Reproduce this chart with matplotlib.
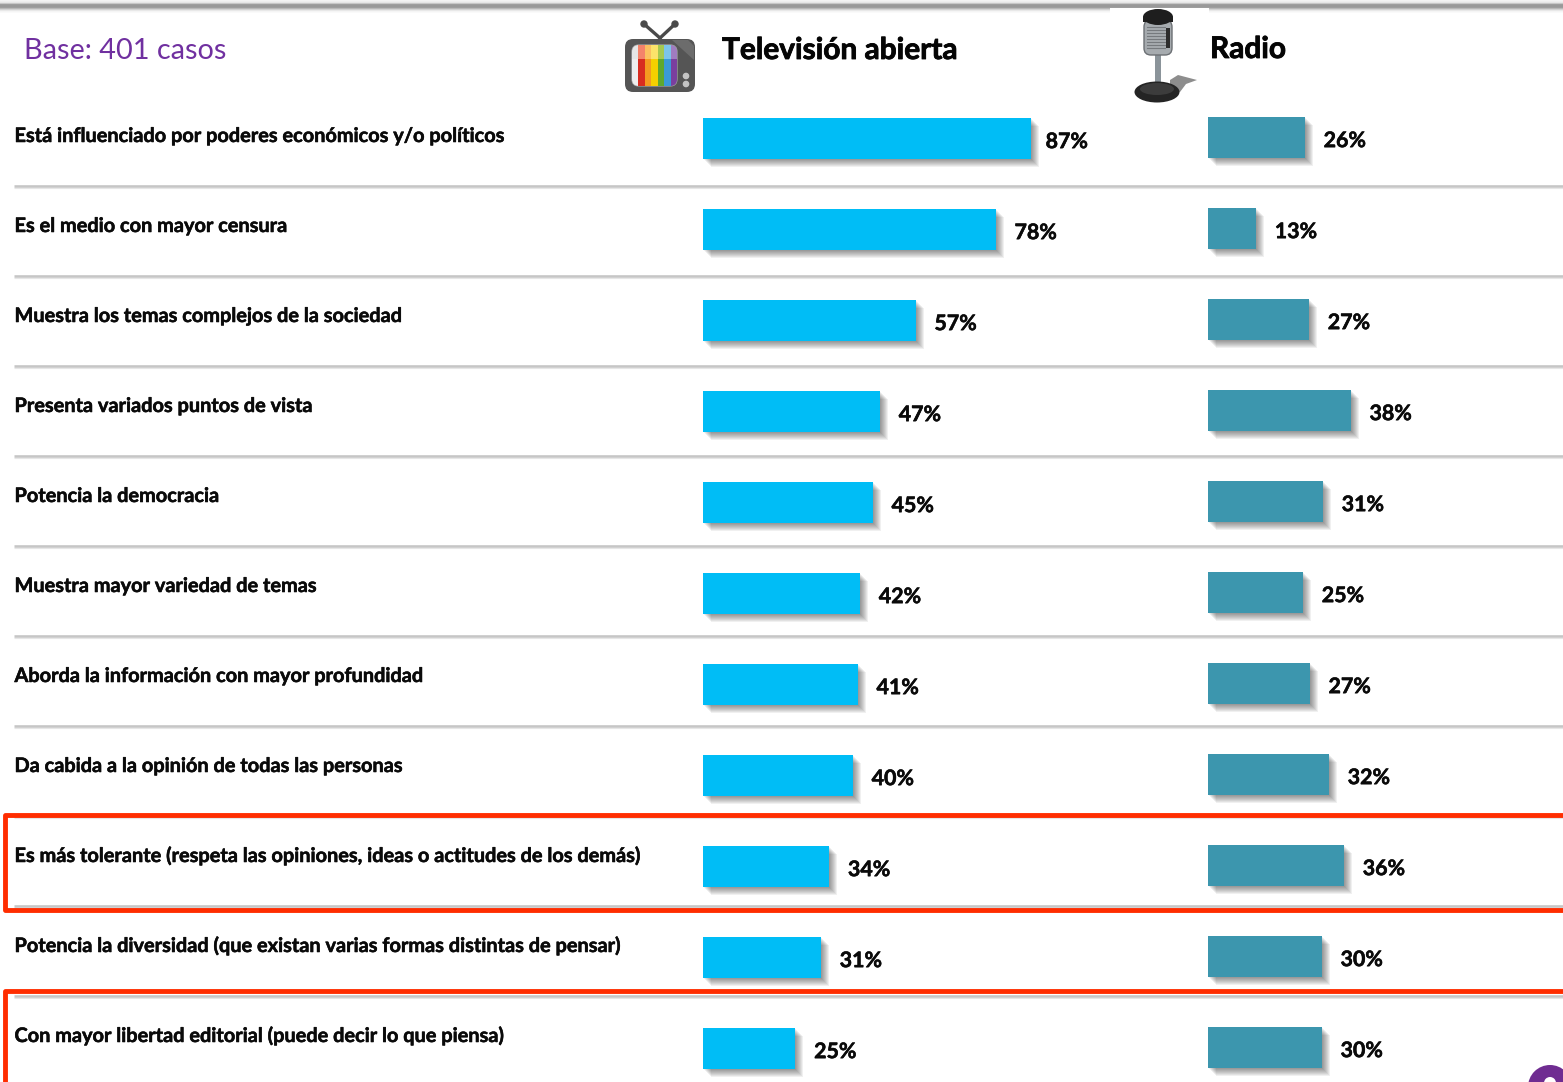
import numpy as np
import matplotlib
matplotlib.use('Agg')
import matplotlib.pyplot as plt
import matplotlib.patheffects as pe
from matplotlib.patches import Rectangle, FancyBboxPatch, Circle, Ellipse, Polygon

W, H = 1563, 1082

categories = [
    'Está influenciado por poderes económicos y/o políticos',
    'Es el medio con mayor censura',
    'Muestra los temas complejos de la sociedad',
    'Presenta variados puntos de vista',
    'Potencia la democracia',
    'Muestra mayor variedad de temas',
    'Aborda la información con mayor profundidad',
    'Da cabida a la opinión de todas las personas',
    'Es más tolerante (respeta las opiniones, ideas o actitudes de los demás)',
    'Potencia la diversidad (que existan varias formas distintas de pensar)',
    'Con mayor libertad editorial (puede decir lo que piensa)',
]
tv_labels = [87, 78, 57, 47, 45, 42, 41, 40, 34, 31, 25]
radio_labels = [26, 13, 27, 38, 31, 25, 27, 32, 36, 30, 30]
# bar lengths, they differ a little from the printed numbers
tv_values = [87.2, 77.9, 56.6, 47.1, 45.2, 41.8, 41.2, 39.9, 33.6, 31.4, 24.6]
radio_values = [25.8, 12.8, 26.9, 38.0, 30.6, 25.3, 27.1, 32.2, 36.2, 30.3, 30.3]

TV_COLOR = '#00bdf6'
RADIO_COLOR = '#3c96ae'
LINE_COLOR = '#c6c6c6'
RED = '#ff2d00'
PURPLE = '#7030a0'

plt.rcParams['font.family'] = ['Lato', 'DejaVu Sans']


def heavy(color='#0a0a0a', width=0.4):
    # Lato bold is lighter than the bold of the reference
    return [pe.withStroke(linewidth=width, foreground=color)]


fig = plt.figure(figsize=(W / 100, H / 100), dpi=100)

# background layer in pixel coordinates
bg = fig.add_axes([0, 0, 1, 1])

# top band
band = np.array([.95, .93, .90, .78, .62, .60, .60, .62, .72, .83, .91, .96, .98, 1.0])
bg.imshow(band[:, None], cmap='gray', vmin=0, vmax=1, aspect='auto',
          extent=(0, W, 14, 0), zorder=1)
bg.set_xlim(0, W)
bg.set_ylim(H, 0)
bg.axis('off')

# separators
for y in [186, 276, 366, 456, 546, 636, 726, 816, 906, 996]:
    bg.plot([14, W], [y, y], color=LINE_COLOR, lw=1.9, solid_capstyle='butt', zorder=2)
    bg.plot([14, W], [y + 2, y + 2], color='#e6e6e6', lw=0.8, solid_capstyle='butt', zorder=2)

# row labels
for i, cat in enumerate(categories):
    bg.text(14.5, 142 + 90 * i, cat, fontsize=14.35, fontweight='bold', color='#0a0a0a',
            ha='left', va='baseline', zorder=5, path_effects=heavy())

# headers
bg.text(24, 59, 'Base: 401 casos', fontsize=20.8, color=PURPLE, ha='left', va='baseline', zorder=5)
bg.text(722, 59, 'Televisión abierta', fontsize=21.5, fontweight='bold', color='#050505',
        ha='left', va='baseline', zorder=5, path_effects=heavy('#050505', 0.6))
bg.text(1210, 58, 'Radio', fontsize=21.5, fontweight='bold', color='#050505',
        ha='left', va='baseline', zorder=5, path_effects=heavy('#050505', 0.6))

# red frames
bg.plot([W + 5, 4.5, 4.5, W + 5], [815, 815, 909.5, 909.5], color=RED, lw=3.5,
        solid_joinstyle='round', zorder=6)
bg.plot([W + 5, 4.5, 4.5], [990.5, 990.5, H + 5], color=RED, lw=3.5,
        solid_joinstyle='round', zorder=6)

# tv icon
for xe in [644, 675]:
    bg.plot([660, xe], [38, 24], color='#4a4a4a', lw=2.4, zorder=3)
    bg.add_patch(Circle((xe, 24), 3, color='#4a4a4a', zorder=3))
body = FancyBboxPatch((629, 43), 62, 45, boxstyle='round,pad=4,rounding_size=8',
                      fc='#555555', ec='none', zorder=3)
bg.add_patch(body)
bg.add_patch(Polygon([(672, 40), (688, 40), (694, 46), (694, 60)], fc='#6c6c6c', ec='none', zorder=3))
screen = FancyBboxPatch((635, 48), 39, 35, boxstyle='round,pad=3,rounding_size=7',
                        fc='#dddddd', ec='#9a9a9a', lw=1, zorder=4)
bg.add_patch(screen)
tops = ['#e6e6e6', '#f4836b', '#fbc060', '#fbe36a', '#a5c850', '#7cc4ea', '#a07cc0']
bottoms = ['#eeeeee', '#d82c20', '#f49a20', '#f6d000', '#5fa82e', '#3a9ad8', '#7a3f9e']
for k in range(7):
    x0 = 632 + k * 45 / 7
    r1 = Rectangle((x0, 45), 45 / 7, 14, fc=tops[k], ec='none', zorder=4)
    r2 = Rectangle((x0, 59), 45 / 7, 27, fc=bottoms[k], ec='none', zorder=4)
    bg.add_patch(r1)
    bg.add_patch(r2)
    r1.set_clip_path(screen)
    r2.set_clip_path(screen)
bg.add_patch(Circle((686, 76), 2.6, color='#c4c4c4', zorder=4))
bg.add_patch(Circle((686, 84), 2.6, color='#c4c4c4', zorder=4))

# microphone icon
bg.add_patch(Rectangle((1110, 8), 99, 95, fc='white', ec='none', zorder=3))
bg.add_patch(Polygon([(1170, 80), (1178, 75), (1197, 80), (1186, 84), (1180, 92), (1170, 90)],
                     fc='#8d8d8d', ec='none', zorder=3))
bg.add_patch(Rectangle((1155, 53), 6, 37, fc='#8b949a', ec='none', zorder=4))
bg.add_patch(Ellipse((1157, 92), 45, 21, fc='#242424', ec='none', zorder=4))
bg.add_patch(Ellipse((1157, 89), 34, 12, fc='#3c3c3c', ec='none', zorder=4))
bg.add_patch(FancyBboxPatch((1148, 24), 20, 27, boxstyle='round,pad=4,rounding_size=7',
                            fc='#a6abaf', ec='#6c7074', lw=1, zorder=4))
for y in range(27, 50, 3):
    bg.plot([1147, 1165], [y, y], color='#767a7e', lw=0.8, zorder=5)
bg.add_patch(Rectangle((1166, 28), 4, 20, fc='#2c2c2c', ec='none', zorder=5))
bg.add_patch(Ellipse((1158, 17), 30, 16, fc='#1e1e1e', ec='none', zorder=5))
bg.add_patch(Rectangle((1143, 17), 30, 5, fc='#1e1e1e', ec='none', zorder=5))

# purple logo cut by the corner
bg.add_patch(Circle((1550, 1087), 22, fc='#6f2c91', ec='none', zorder=3))
bg.add_patch(Circle((1550, 1083), 6, fc='white', ec='none', zorder=4))


def shadow_effects():
    effects = []
    for px in [1, 2, 3, 4, 5, 6, 7, 8]:
        off = px * 0.72
        effects.append(pe.SimplePatchShadow(offset=(off, -off), shadow_rgbFace='black', alpha=0.06))
    effects.append(pe.Normal())
    return effects


def draw_bars(left, center0, values, labels, color):
    # 100 % = 376 px, one row = 91 px
    ax = fig.add_axes([left / W, 0, 376 / W, 1])
    ax.set_xlim(0, 100)
    ax.set_ylim((H - center0) / 91, -center0 / 91)
    ax.patch.set_alpha(0)
    ax.axis('off')
    rows = np.arange(len(values))
    bars = ax.barh(rows, values, height=41 / 91, color=color, zorder=3)
    for bar in bars:
        bar.set_path_effects(shadow_effects())
    for row, val, lab in zip(rows, values, labels):
        dx = 10.6 if lab == 87 else 13.4  # the 87% sits closer to its bar
        ax.annotate('%d%%' % lab, (val, row), xytext=(dx, -2.6), textcoords='offset points',
                    fontsize=15.4, fontweight='bold', color='#0a0a0a',
                    ha='left', va='center', annotation_clip=False, path_effects=heavy())
    return ax


ax_tv = draw_bars(703, 138.5, tv_values, tv_labels, TV_COLOR)
ax_radio = draw_bars(1208, 137.5, radio_values, radio_labels, RADIO_COLOR)

fig.savefig('out.png', dpi=100)
